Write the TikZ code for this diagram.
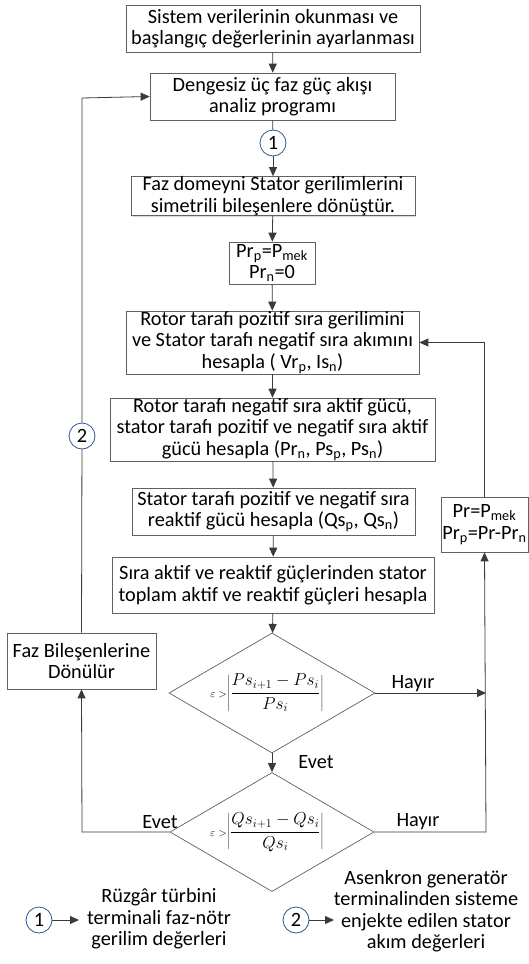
\documentclass[tikz,border=0pt]{standalone}
\usepackage{fontspec}
\setmainfont{Carlito}
\usetikzlibrary{arrows.meta,shapes.geometric,shadows}
\definecolor{ln}{HTML}{3A3A3A}
\definecolor{cb}{HTML}{2F5597}
\newcommand{\sbs}[1]{\textsubscript{#1}}
\newcommand{\mfs}{\fontsize{16.5}{20}\selectfont}
\begin{document}
\begin{tikzpicture}[x=1pt,y=-1pt,
  font=\fontsize{20.3}{21.5}\selectfont,
  box/.style={draw=ln!80,fill=white,align=center,inner sep=0pt,line width=0.7pt,
    drop shadow={shadow xshift=1.3pt,shadow yshift=-1.3pt,fill=black!25,opacity=0.6}},
  dia/.style={diamond,draw=ln!80,fill=white,inner sep=0pt,line width=0.7pt},
  num/.style={circle,draw=cb,fill=white,line width=0.8pt,minimum size=26pt,inner sep=0pt},
  con/.style={draw=ln,line width=0.8pt},
  arr/.style={con,-{Triangle[length=9pt,width=8pt]}},
  lab/.style={inner sep=1pt}]
\useasboundingbox (0,0) rectangle (529,964);

\node[box,minimum width=294pt,minimum height=47pt] (b1) at (273,28.5) {Sistem verilerinin okunması ve\\başlangıç değerlerinin ayarlanması};
\node[box,minimum width=245pt,minimum height=47pt] (b2) at (272.5,96.5) {Dengesiz üç faz güç akışı\\analiz programı};
\node[num] (c1) at (273,143) {1};
\node[box,minimum width=284pt,minimum height=39pt] (b3) at (273,196) {Faz domeyni Stator gerilimlerini\\simetrili bileşenlere dönüştür.};
\node[box,minimum width=86pt,minimum height=42pt] (b4) at (272,263) {Pr\sbs{p}=P\sbs{mek}\\Pr\sbs{n}=0};
\node[box,minimum width=293pt,minimum height=63pt] (b5) at (272.5,342.5) {Rotor tarafı pozitif sıra gerilimini\\ve Stator tarafı negatif sıra akımını\\hesapla ( Vr\sbs{p}, Is\sbs{n})};
\node[box,minimum width=325pt,minimum height=63pt] (b6) at (272.5,429.5) {Rotor tarafı negatif sıra aktif gücü,\\stator tarafı pozitif ve negatif sıra aktif\\gücü hesapla (Pr\sbs{n}, Ps\sbs{p}, Ps\sbs{n})};
\node[box,minimum width=283pt,minimum height=47pt] (b7) at (273.5,511.5) {Stator tarafı pozitif ve negatif sıra\\reaktif gücü hesapla (Qs\sbs{p}, Qs\sbs{n})};
\node[box,minimum width=322pt,minimum height=56pt] (b8) at (273,585) {Sıra aktif ve reaktif güçlerinden stator\\toplam aktif ve reaktif güçleri hesapla};

\node[dia,minimum width=206pt,minimum height=120pt] (d1) at (272,693) {};
\node[font=\mfs] (m1) at (267,693) {{\fontsize{11}{13}\selectfont$\varepsilon>$}$\displaystyle\left|\frac{Ps_{i+1}-Ps_i}{Ps_i}\right|$};
\node[dia,minimum width=204pt,minimum height=119pt] (d2) at (272,832) {};
\node[font=\mfs] (m2) at (267,832) {{\fontsize{11}{13}\selectfont$\varepsilon>$}$\displaystyle\left|\frac{Qs_{i+1}-Qs_i}{Qs_i}\right|$};

\node[box,minimum width=149pt,minimum height=56pt] (fb) at (81.5,661) {Faz Bileşenlerine\\Dönülür};
\node[box,minimum width=87pt,minimum height=55pt] (pr) at (484.5,524.5) {Pr=P\sbs{mek}\\Pr\sbs{p}=Pr-Pr\sbs{n}};
\node[num] (c2) at (82,436) {2};

\coordinate (r1) at (486,693);
\coordinate (r2) at (486,832);
\coordinate (l2) at (82,832);
\coordinate (lt) at (82,98);

% main column
\draw[arr] (b1) -- (b2);
\draw[con] (b2) -- (c1);
\draw[arr] (c1) -- (b3);
\draw[arr] (b3) -- (b4);
\draw[arr] (b4) -- (b5);
\draw[arr] (b5) -- (b6);
\draw[arr] (b6) -- (b7);
\draw[arr] (b7) -- (b8);
\draw[arr] (b8) -- (d1);
\draw[arr] (d1) -- (d2);
% right loop
\draw[arr] (d1.east) -- (r1);
\draw[arr] (d2.east) -- (r2) -- (pr.south);
\draw[arr] (pr.north) |- (b5.east);
% left loop
\draw[arr] (d2.west) -- (l2) -- (fb.south);
\draw[con] (fb.north) -- (c2);
\draw[arr] (c2) -- (lt) -- (b2.west);

\node[lab] at (413,684) {Hayır};
\node[lab] at (418,822) {Hayır};
\node[lab] at (316,762) {Evet};
\node[lab] at (160,822) {Evet};

% legend
\node[num] (lc1) at (39,920) {1};
\node[align=center,inner sep=0pt] (lt1) at (159,919) {Rüzgâr türbini\\terminali faz-nötr\\gerilim değerleri};
\coordinate (la1) at (79,920);
\draw[arr] (lc1) -- (la1);
\node[num] (lc2) at (296,920) {2};
\node[align=center,inner sep=0pt] (lt2) at (426,911) {Asenkron generatör\\terminalinden sisteme\\enjekte edilen stator\\akım değerleri};
\coordinate (la2) at (334,920);
\draw[arr] (lc2) -- (la2);
\end{tikzpicture}
\end{document}
